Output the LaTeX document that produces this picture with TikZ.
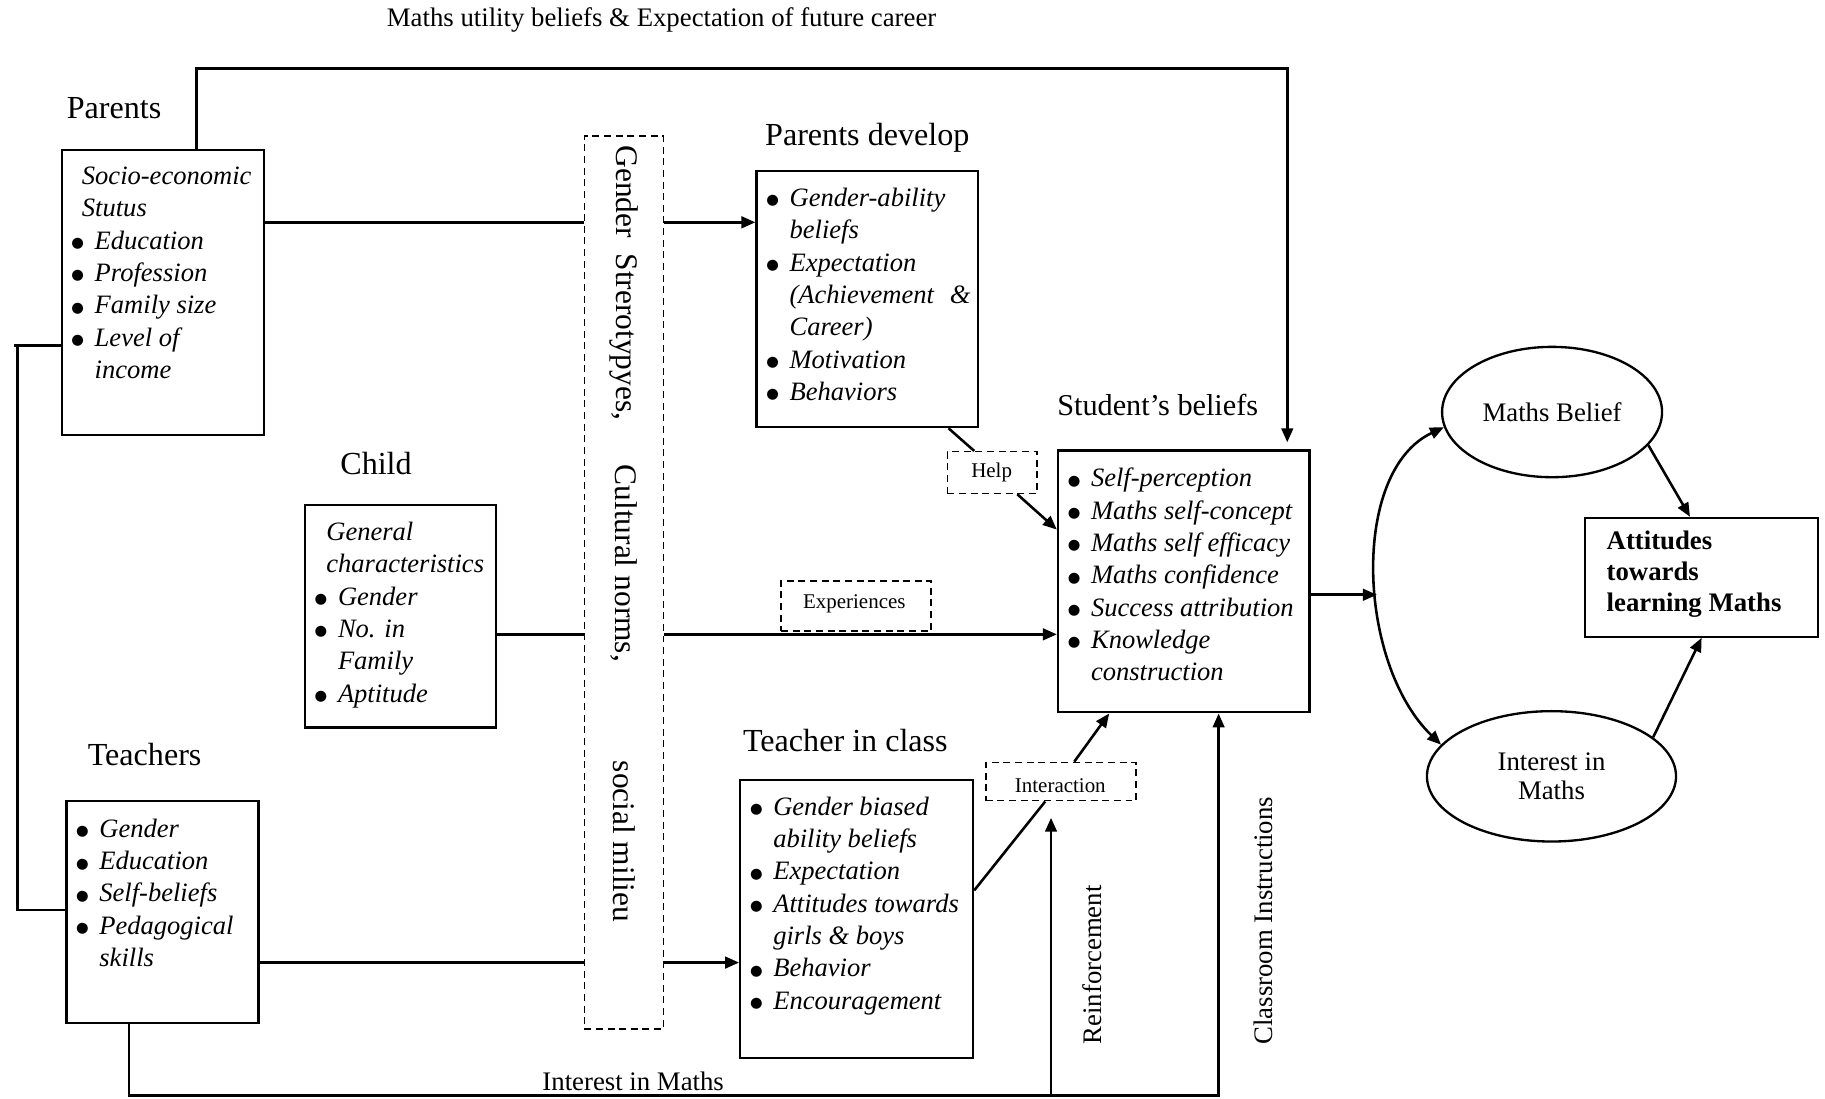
\documentclass[tikz,border=0pt]{standalone}
\usepackage{fontspec}
\setmainfont{Liberation Serif}
\newfontfamily\symfont{DejaVu Sans}
\usetikzlibrary{arrows.meta,shapes.geometric,fit,calc}

% bullet with hanging indent for the list boxes
\newcommand\bul{\makebox[10pt][l]{\raisebox{0.7pt}{\upshape\symfont\fontsize{6.2}{6.2}\selectfont ●}}}
\newcommand\ind{\hspace*{10pt}}

\tikzset{
  box/.style={draw, line width=1pt, inner sep=0pt},
  dbox/.style={draw, line width=0.6pt, dash pattern=on 3pt off 2pt, inner sep=0pt},
  conn/.style={line width=1.1pt},
  arr/.style={line width=1.1pt, -{Triangle[length=6pt,width=5pt]}},
  dbl/.style={line width=1.1pt, {Triangle[length=6pt,width=5pt]}-{Triangle[length=6pt,width=5pt]}},
  head/.style={font=\fontsize{13.8}{16}\selectfont, inner sep=0pt, anchor=west, text height=9.5pt, text depth=2.5pt},
  items/.style={font=\fontsize{11.4}{13.9}\selectfont\itshape, align=left, inner sep=0pt, anchor=north west},
  small/.style={font=\fontsize{9}{11}\selectfont, inner sep=0pt},
  lab/.style={font=\fontsize{11.5}{13}\selectfont, inner sep=0pt},
  vlab/.style={font=\fontsize{13.5}{16}\selectfont, inner sep=0pt, rotate=-90},
  oval/.style={draw, ellipse, line width=1pt, inner sep=0pt, font=\fontsize{11.5}{12.5}\selectfont, align=center},
}

\begin{document}
\begin{tikzpicture}[x=0.5pt, y=-0.5pt]
\useasboundingbox (0,0) rectangle (1568,944);

% ---------- title of the top feedback loop ----------
\node[lab, anchor=west] (title) at (332,17) {Maths utility beliefs \& Expectation of future career};

% ---------- group headings ----------
\node[head] (hpar) at (57,95) {Parents};
\node[head] (hdev) at (657,118) {Parents develop};
\node[head] (hchild) at (292,401) {Child};
\node[head] (hteach) at (75,651) {Teachers};
\node[head] (hcls) at (638,639) {Teacher in class};
\node[head, font=\fontsize{13}{16}\selectfont] (hstu) at (908,350) {Student's beliefs};

% ---------- frames ----------
\node[box, fit={(53,129) (227,374)}] (pbox) {};
\node[box, fit={(650,147) (840,367)}] (pdev) {};
\node[box, fit={(262,434) (426,625)}] (cbox) {};
\node[box, fit={(57,688) (222,879)}] (tbox) {};
\node[box, fit={(636,670) (836,909)}] (tcls) {};
\node[box, fit={(909,387) (1125,612)}] (sb) {};
\node[box, fit={(1362,445) (1562,547)}] (att) {};
\node[dbox, fit={(502,117) (570,884)}] (gbox) {};
\node[dbox, fit={(814,388) (891,424)}] (help) {};
\node[dbox, fit={(671,499) (800,542)}] (exp) {};
\node[dbox, fit={(847,655) (976,688)}] (inter) {};

% ---------- frame contents ----------
\node[items] (ptxt) at (61,138.5) {\hspace*{4.5pt}\strut Socio-economic\\ \hspace*{4.5pt}Stutus\\
  \bul Education\\ \bul Profession\\ \bul Family size\\ \bul Level of\\ \ind income};
\node[items] (dtxt) at (658,157.5) {\bul\strut Gender-ability\\ \ind beliefs\\ \bul Expectation\\
  \ind (Achievement\hspace{4pt} \&\\ \ind Career)\\ \bul Motivation\\ \bul Behaviors};
\node[items] (ctxt) at (270,444.5) {\hspace*{5pt}\strut General\\ \hspace*{5pt}characteristics\\
  \bul Gender\\ \bul No. in\\ \ind Family\\ \bul Aptitude};
\node[items] (ttxt) at (65,699.5) {\bul\strut Gender\\ \bul Education\\ \bul Self-beliefs\\
  \bul Pedagogical\\ \ind skills};
\node[items] (ktxt) at (644,680.5) {\bul\strut Gender biased\\ \ind ability beliefs\\ \bul Expectation\\
  \bul Attitudes towards\\ \ind girls \& boys\\ \bul Behavior\\ \bul Encouragement};
\node[items] (stxt) at (917,398.3) {\bul\strut Self-perception\\ \bul Maths self-concept\\
  \bul Maths self efficacy\\ \bul Maths confidence\\ \bul Success attribution\\ \bul Knowledge\\ \ind construction};
\node[items, font=\fontsize{11.5}{13.3}\selectfont\bfseries] (atxt) at (1380,453.5)
  {\strut Attitudes\\ towards\\ learning Maths};

% ---------- dashed labels ----------
\node[vlab] (v1) at (536,243) {Gender\ \ Strerotypyes,};
\node[vlab] (v2) at (536,484) {Cultural norms,};
\node[vlab] (v3) at (536,723) {social milieu};
\node[small] (lhelp) at (852,406) {Help};
\node[small] (lexp) at (734,519) {Experiences};
\node[small] (linter) at (911,675) {Interaction};

% ---------- outcome ovals ----------
\node[oval, minimum width=94.5pt, minimum height=56pt] (mb) at (1333.5,354) {Maths Belief};
\node[oval, minimum width=107pt, minimum height=56pt] (im) at (1333,667) {Interest in\\Maths};

% ---------- helper points for the connectors ----------
\coordinate (tl) at (169,59);
\coordinate (tr) at (1106,59);
\coordinate (yP) at (0,191);
\coordinate (yC) at (0,545);
\coordinate (yT) at (0,827);
\coordinate (lt) at (15,297);
\coordinate (lb) at (15,782);
\coordinate (h1) at (815,0);
\coordinate (h2) at (837,0);
\coordinate (h3) at (874,0);
\coordinate (h4) at (0,455);
\coordinate (i1) at (0,765);
\coordinate (i2) at (898,0);
\coordinate (i3) at (923,0);
\coordinate (i4) at (953,0);
\coordinate (bl) at (111,941);
\coordinate (bm) at (903,941);
\coordinate (br) at (1047,941);
\coordinate (meet) at (1183,511);
\coordinate (yS) at (0,511);

% ---------- connectors ----------
\draw[arr, shorten >=3pt] (tl |- pbox.north) -- (tl) -- (tr) -- (tr |- sb.north);

\draw[conn] (pbox.east |- yP) -- (gbox.west |- yP);
\draw[arr] (gbox.east |- yP) -- (pdev.west |- yP);

\draw[conn] (cbox.east |- yC) -- (gbox.west |- yC);
\draw[arr] (gbox.east |- yC) -- (sb.west |- yC);

\draw[conn] (tbox.east |- yT) -- (gbox.west |- yT);
\draw[arr] (gbox.east |- yT) -- (tcls.west |- yT);

\draw[conn] (pbox.west |- lt) -- ([xshift=-1.5pt]lt) (lt) -- (lb) -- (tbox.west |- lb);

\draw[conn] (pdev.south -| h1) -- (help.north -| h2);
\draw[arr] (help.south -| h3) -- (sb.west |- h4);

\draw[conn] (tcls.east |- i1) -- (inter.south -| i2);
\draw[arr] (inter.north -| i3) -- (sb.south -| i4);

\draw[arr] (tbox.south -| bl) -- (bl) -- (br) -- (sb.south -| br);
\draw[arr, shorten >=7pt] (bm) -- (inter.south -| bm);

\node[lab] (lint) at (544,929) {Interest in Maths};
\node[lab, rotate=90] (lrein) at (938,829) {Reinforcement};
\node[lab, rotate=90] (lclass) at (1085,791) {Classroom Instructions};

\draw[arr] (sb.east |- yS) -- (meet);
\draw[dbl] (mb.188) .. controls (1160,405) and (1166,570) .. (im.164);
\draw[arr] (mb.-19) -- ([xshift=-5pt]att.north);
\draw[arr] (im.21) -- (att.south);
\end{tikzpicture}
\end{document}
